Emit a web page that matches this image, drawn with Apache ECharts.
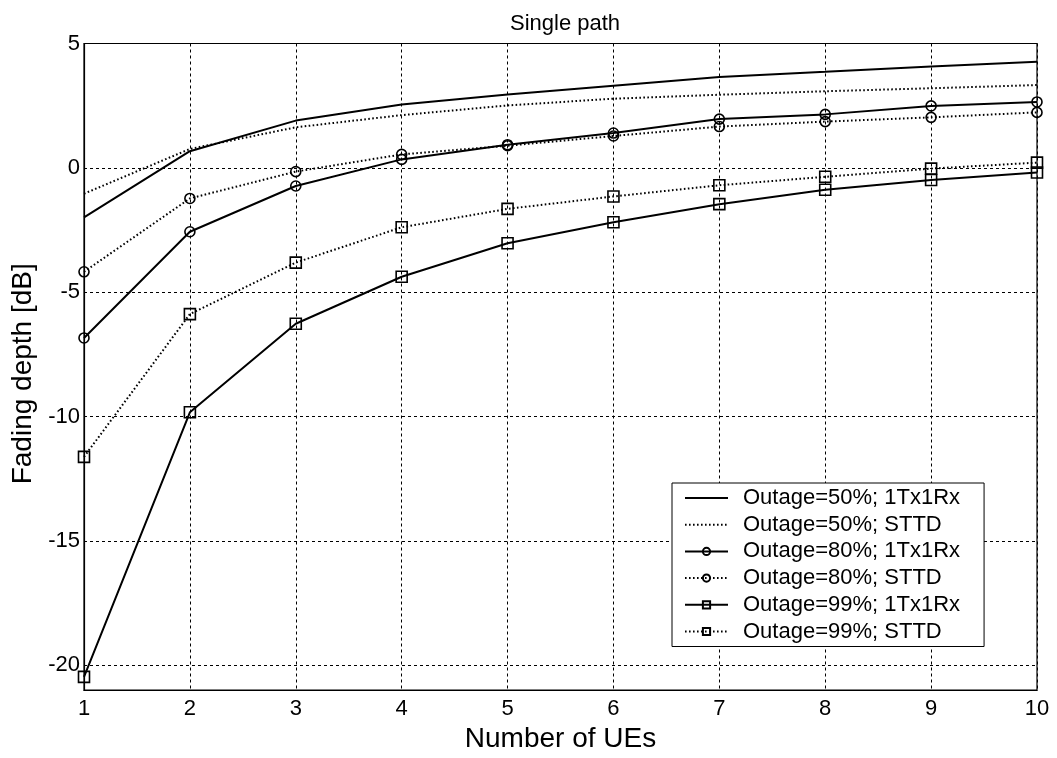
<!DOCTYPE html>
<html>
<head>
<meta charset="utf-8">
<script src="https://cdn.jsdelivr.net/npm/echarts@6/dist/echarts.min.js"></script>
<style>
html,body{margin:0;padding:0;background:#fff;}
#chart{width:1057px;height:758px;}
</style>
</head>
<body>
<div id="chart"></div>
<script>
const numberOfUEs = [1,2,3,4,5,6,7,8,9,10];
const seriesNames = [
  'Outage=50%; 1Tx1Rx',
  'Outage=50%; STTD',
  'Outage=80%; 1Tx1Rx',
  'Outage=80%; STTD',
  'Outage=99%; 1Tx1Rx',
  'Outage=99%; STTD'
];
const outage50_1Tx1Rx = [-1.99, 0.67, 1.90, 2.55, 2.95, 3.30, 3.65, 3.86, 4.08, 4.27];
const outage50_STTD   = [-1.04, 0.76, 1.63, 2.12, 2.51, 2.78, 2.94, 3.08, 3.20, 3.33];
const outage80_1Tx1Rx = [-6.84, -2.57, -0.73, 0.34, 0.93, 1.40, 1.96, 2.15, 2.49, 2.65];
const outage80_STTD   = [-4.18, -1.23, -0.15, 0.54, 0.89, 1.28, 1.66, 1.86, 2.03, 2.23];
const outage99_1Tx1Rx = [-20.47, -9.83, -6.27, -4.38, -3.03, -2.19, -1.46, -0.88, -0.49, -0.19];
const outage99_STTD   = [-11.62, -5.88, -3.81, -2.39, -1.65, -1.15, -0.70, -0.36, -0.03, 0.21];
const yTicks = [-20, -15, -10, -5, 0, 5];
const xTicks = [1,2,3,4,5,6,7,8,9,10];

const FONT = '"Liberation Sans", Arial, sans-serif';
const pair = (ys) => numberOfUEs.map((x, i) => [x, ys[i]]);

function mk(name, ys, dotted, symbol, size) {
  const hasMark = symbol !== null;
  return {
    name: name,
    type: 'line',
    data: pair(ys),
    symbol: hasMark ? symbol : 'circle',
    symbolSize: hasMark ? size : 1,
    showSymbol: hasMark,
    color: '#000',
    lineStyle: { color: '#000', width: 2, type: dotted ? [1.6, 2.4] : 'solid' },
    itemStyle: { color: 'rgba(255,255,255,0)', borderColor: '#000', borderWidth: 1.6 },
    emphasis: { disabled: true },
    animation: false
  };
}

const legendData = seriesNames.map((n, i) => i < 2
  ? { name: n, itemStyle: { color: 'rgba(0,0,0,0)', borderColor: 'rgba(0,0,0,0)', borderWidth: 0 } }
  : { name: n });

const chart = echarts.init(document.getElementById('chart'));
chart.setOption({
  backgroundColor: '#fff',
  animation: false,
  title: {
    text: 'Single path',
    left: 560,
    top: 8,
    textAlign: 'center',
    textStyle: { fontFamily: FONT, fontSize: 22, fontWeight: 'normal', color: '#000' }
  },
  grid: {
    left: 84, right: 20, top: 43.5, bottom: 55.5,
    show: true, borderColor: '#000', borderWidth: 1.2, backgroundColor: '#fff'
  },
  legend: {
    orient: 'vertical',
    left: 672, top: 483,
    data: legendData,
    backgroundColor: '#fff',
    borderColor: '#000',
    borderWidth: 1,
    borderRadius: 0,
    padding: [4, 24, 4, 12],
    itemWidth: 43,
    itemHeight: 9,
    itemGap: 4.7,
    textStyle: { fontFamily: FONT, fontSize: 22, color: '#000', lineHeight: 22, padding: [0, 0, 0, 10] }
  },
  xAxis: {
    type: 'value',
    min: 1, max: 10, interval: 1,
    name: 'Number of UEs',
    nameLocation: 'middle',
    nameGap: 26,
    nameTextStyle: { fontFamily: FONT, fontSize: 28, color: '#000' },
    axisLine: { show: true, onZero: false, lineStyle: { color: '#000', width: 1.2 } },
    axisTick: { show: false },
    axisLabel: {
      fontFamily: FONT, fontSize: 22, color: '#000', margin: 8,
      customValues: xTicks
    },
    splitLine: { show: true, lineStyle: { color: '#000', width: 1, type: [3, 3] } }
  },
  yAxis: {
    type: 'value',
    min: -21, max: 5,
    name: 'Fading depth [dB]',
    nameLocation: 'middle',
    nameGap: 46,
    nameTextStyle: { fontFamily: FONT, fontSize: 28, color: '#000', padding: [0, 14, 0, 0] },
    axisLine: { show: true, onZero: false, lineStyle: { color: '#000', width: 1.2 } },
    axisTick: { show: false, customValues: yTicks },
    axisLabel: {
      fontFamily: FONT, fontSize: 22, color: '#000', margin: 4,
      customValues: yTicks
    },
    splitLine: { show: true, lineStyle: { color: '#000', width: 1, type: [3, 3] } }
  },
  series: [
    mk(seriesNames[0], outage50_1Tx1Rx, false, null, 0),
    mk(seriesNames[1], outage50_STTD, true, null, 0),
    mk(seriesNames[2], outage80_1Tx1Rx, false, 'circle', 10),
    mk(seriesNames[3], outage80_STTD, true, 'circle', 10),
    mk(seriesNames[4], outage99_1Tx1Rx, false, 'rect', 11),
    mk(seriesNames[5], outage99_STTD, true, 'rect', 11)
  ]
});
</script>
</body>
</html>
